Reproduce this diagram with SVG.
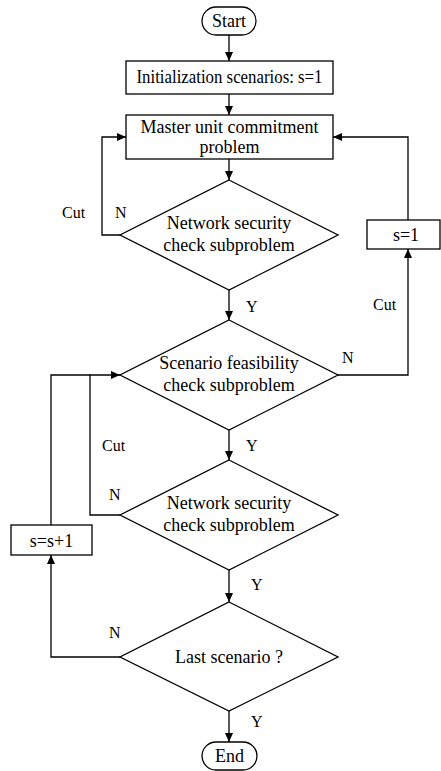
<svg xmlns="http://www.w3.org/2000/svg" width="441" height="771" viewBox="0 0 441 771" font-family="'Liberation Serif', 'DejaVu Serif', serif">
<style>
.s{fill:#fff;stroke:#000;stroke-width:1.3}
.c{fill:none;stroke:#000;stroke-width:1.3}
.t{font-size:18px;text-anchor:middle;font-family:'Liberation Serif','DejaVu Serif',serif}
.l{font-size:16px;font-family:'Liberation Serif','DejaVu Serif',serif}
</style>
<defs>
<marker id="a" markerWidth="10" markerHeight="8" refX="9" refY="4" orient="auto" markerUnits="userSpaceOnUse">
<path d="M0,0 L9,4 L0,8 Z" fill="#000"/>
</marker>
</defs>
<rect width="441" height="771" fill="#fff"/>
<g id="connectors">
<path class="c" d="M229,35 V61" marker-end="url(#a)"/>
<path class="c" d="M229,94 V115" marker-end="url(#a)"/>
<path class="c" d="M229,159 V180" marker-end="url(#a)"/>
<path class="c" d="M120,235 H102 V137 H126" marker-end="url(#a)"/>
<path class="c" d="M229,290 V320" marker-end="url(#a)"/>
<path class="c" d="M338,375 H408 V249" marker-end="url(#a)"/>
<path class="c" d="M408,220 V137 H333" marker-end="url(#a)"/>
<path class="c" d="M229,430 V460" marker-end="url(#a)"/>
<path class="c" d="M120,515 H90 V375 H120" marker-end="url(#a)"/>
<path class="c" d="M51,525 V375 H90"/>
<path class="c" d="M229,570 V602" marker-end="url(#a)"/>
<path class="c" d="M120,657 H51 V555" marker-end="url(#a)"/>
<path class="c" d="M229,711 V742" marker-end="url(#a)"/>
</g>
<g id="start">
<rect class="s" x="202" y="7" width="54" height="28" rx="14"/>
<text class="t" x="229" y="27">Start</text>
</g>
<g id="init">
<rect class="s" x="126" y="61" width="207" height="33"/>
<text class="t" x="229.5" y="83" textLength="186" lengthAdjust="spacingAndGlyphs">Initialization scenarios: s=1</text>
</g>
<g id="master">
<rect class="s" x="126" y="115" width="207" height="44"/>
<text class="t" x="229.5" y="133">Master unit commitment</text>
<text class="t" x="229.5" y="153">problem</text>
</g>
<g id="nsc1">
<polygon class="s" points="229,180 338,235 229,290 120,235"/>
<text class="t" x="229" y="229">Network security</text>
<text class="t" x="229" y="251">check subproblem</text>
</g>
<g id="s1">
<rect class="s" x="367" y="220" width="73" height="29"/>
<text class="t" x="406" y="241">s=1</text>
</g>
<g id="sfc">
<polygon class="s" points="229,320 338,375 229,430 120,375"/>
<text class="t" x="229" y="369">Scenario feasibility</text>
<text class="t" x="229" y="391">check subproblem</text>
</g>
<g id="nsc2">
<polygon class="s" points="229,460 338,515 229,570 120,515"/>
<text class="t" x="229" y="509">Network security</text>
<text class="t" x="229" y="531">check subproblem</text>
</g>
<g id="ss1">
<rect class="s" x="11" y="525" width="81" height="30"/>
<text class="t" x="51.5" y="547">s=s+1</text>
</g>
<g id="last">
<polygon class="s" points="229,602 338,657 229,711 120,657"/>
<text class="t" x="229" y="663">Last scenario ?</text>
</g>
<g id="end">
<rect class="s" x="202" y="742" width="55" height="28" rx="14"/>
<text class="t" x="229.5" y="762">End</text>
</g>
<g id="labels">
<text class="l" x="62" y="218">Cut</text>
<text class="l" x="115" y="218">N</text>
<text class="l" x="246" y="312">Y</text>
<text class="l" x="342" y="363">N</text>
<text class="l" x="373" y="310">Cut</text>
<text class="l" x="102" y="451">Cut</text>
<text class="l" x="246" y="451">Y</text>
<text class="l" x="109" y="500">N</text>
<text class="l" x="251" y="590">Y</text>
<text class="l" x="109" y="638">N</text>
<text class="l" x="251" y="727">Y</text>
</g>
</svg>
